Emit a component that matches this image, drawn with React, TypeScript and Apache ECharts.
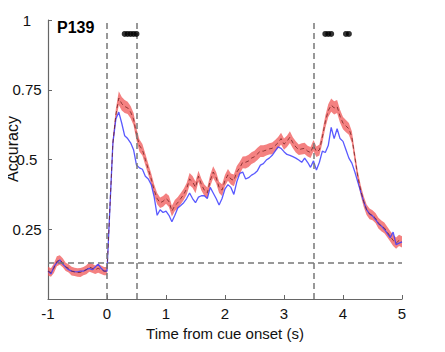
import React, { useEffect, useRef } from "react";
import * as echarts from "echarts";

// sampling grid: -1 s to 5 s in 0.05 s steps (121 samples)
const tStart = -1;
const tStep = 0.05;

// red condition: mean accuracy
const redMean = [
  0.10, 0.095, 0.11, 0.135, 0.14, 0.13, 0.115, 0.11, 0.10, 0.097, 0.095, 0.095, 0.10, 0.105, 0.115, 0.11, 0.105, 0.11, 0.105, 0.10, 0.10,
  0.33, 0.56, 0.66, 0.72, 0.70, 0.69, 0.685, 0.67, 0.645, 0.59, 0.55, 0.535, 0.50, 0.465, 0.43, 0.39, 0.36, 0.345, 0.35, 0.36,
  0.35, 0.315, 0.335, 0.345, 0.36, 0.375, 0.395, 0.43, 0.42, 0.40, 0.44, 0.41, 0.39, 0.38, 0.425, 0.455, 0.435, 0.40, 0.39, 0.425,
  0.445, 0.43, 0.425, 0.455, 0.47, 0.49, 0.49, 0.495, 0.505, 0.51, 0.52, 0.53, 0.53, 0.534, 0.538, 0.54, 0.55, 0.56, 0.575, 0.555,
  0.565, 0.58, 0.56, 0.545, 0.535, 0.538, 0.54, 0.53, 0.525, 0.55, 0.528, 0.534, 0.58, 0.635, 0.675, 0.695, 0.685, 0.69, 0.655, 0.63,
  0.62, 0.61, 0.58, 0.51, 0.44, 0.39, 0.35, 0.32, 0.305, 0.30, 0.29, 0.272, 0.262, 0.255, 0.24, 0.225, 0.21, 0.20, 0.21, 0.205,
];

// red condition: half-width of shaded error band
const redSem = [
  0.016, 0.015, 0.017, 0.018, 0.017, 0.016, 0.015, 0.015, 0.016, 0.015, 0.015, 0.016, 0.015, 0.016, 0.017, 0.016, 0.015, 0.016, 0.015, 0.015, 0.015,
  0.018, 0.02, 0.022, 0.025, 0.024, 0.023, 0.022, 0.022, 0.022, 0.022, 0.022, 0.021, 0.021, 0.02, 0.02, 0.02, 0.02, 0.019, 0.019, 0.019,
  0.02, 0.019, 0.02, 0.021, 0.02, 0.02, 0.021, 0.022, 0.021, 0.021, 0.02, 0.021, 0.02, 0.02, 0.021, 0.021, 0.02, 0.02, 0.021, 0.02,
  0.021, 0.02, 0.021, 0.022, 0.022, 0.021, 0.022, 0.022, 0.021, 0.021, 0.022, 0.021, 0.021, 0.02, 0.02, 0.021, 0.02, 0.021, 0.021, 0.02,
  0.02, 0.021, 0.02, 0.02, 0.019, 0.02, 0.02, 0.019, 0.02, 0.02, 0.019, 0.02, 0.021, 0.022, 0.023, 0.024, 0.024, 0.023, 0.023, 0.022,
  0.022, 0.021, 0.021, 0.02, 0.02, 0.019, 0.019, 0.019, 0.019, 0.018, 0.018, 0.019, 0.019, 0.019, 0.019, 0.019, 0.02, 0.02, 0.02, 0.02,
];

// blue condition
const blueLine = [
  0.10, 0.09, 0.115, 0.13, 0.14, 0.125, 0.115, 0.105, 0.10, 0.098, 0.097, 0.10, 0.10, 0.105, 0.11, 0.105, 0.115, 0.125, 0.11, 0.10, 0.10,
  0.33, 0.56, 0.645, 0.67, 0.63, 0.585, 0.575, 0.56, 0.535, 0.48, 0.47, 0.465, 0.44, 0.43, 0.41, 0.365, 0.30, 0.32, 0.31, 0.315,
  0.30, 0.277, 0.30, 0.326, 0.335, 0.345, 0.36, 0.38, 0.36, 0.345, 0.365, 0.37, 0.37, 0.36, 0.40, 0.38, 0.36, 0.337, 0.36, 0.395,
  0.41, 0.40, 0.375, 0.42, 0.45, 0.455, 0.43, 0.435, 0.444, 0.45, 0.46, 0.48, 0.485, 0.498, 0.505, 0.515, 0.53, 0.545, 0.54, 0.528,
  0.518, 0.515, 0.51, 0.505, 0.498, 0.49, 0.505, 0.49, 0.472, 0.495, 0.462, 0.49, 0.53, 0.525, 0.55, 0.615, 0.575, 0.61, 0.575, 0.565,
  0.535, 0.505, 0.487, 0.456, 0.42, 0.385, 0.35, 0.32, 0.305, 0.298, 0.285, 0.27, 0.262, 0.25, 0.235, 0.22, 0.24, 0.195, 0.20, 0.205,
];

// significance markers (time points)
const sigTimes = [0.3, 0.35, 0.4, 0.45, 0.5, 3.7, 3.75, 3.8, 4.05, 4.1];
const sigLevel = 0.95;

// event markers
const eventTimes = [0, 0.5, 3.5];
const chanceLevel = 0.125;

const title = "P139";
const xName = "Time from cue onset (s)";
const yName = "Accuracy";

const FONT = "Liberation Sans";

export default function App() {
  const ref = useRef<HTMLDivElement>(null);
  useEffect(() => {
    if (!ref.current) return;
    const chart = echarts.init(ref.current, undefined, { renderer: "svg" });
    const times = redMean.map((_, i) => +(tStart + i * tStep).toFixed(2));
    const mean = times.map((t, i) => [t, redMean[i]]);
    const blue = times.map((t, i) => [t, blueLine[i]]);
    const sig = sigTimes.map((t) => [t, sigLevel]);

    chart.setOption({
      animation: false,
      grid: { left: 48, right: 43, top: 20, bottom: 53, outerBoundsMode: "none", containLabel: false },
      xAxis: {
        type: "value",
        min: -1,
        max: 5,
        interval: 1,
        name: xName,
        nameLocation: "middle",
        nameGap: 22,
        nameTextStyle: { fontFamily: FONT, fontSize: 15, color: "#111" },
        axisLine: { onZero: false, lineStyle: { color: "#666", width: 1.2 } },
        axisTick: { inside: true, length: 4, lineStyle: { color: "#666" } },
        axisLabel: { fontFamily: FONT, fontSize: 15, color: "#111", margin: 7 },
        splitLine: { show: false },
      },
      yAxis: {
        type: "value",
        min: 0,
        max: 1,
        interval: 0.25,
        axisLine: { onZero: false, lineStyle: { color: "#666", width: 1.2 } },
        axisTick: { inside: true, length: 4, lineStyle: { color: "#666" } },
        axisLabel: {
          fontFamily: FONT,
          fontSize: 15,
          color: "#111",
          margin: 21,
          align: "center",
          formatter: (v: number) => (v === 0 ? "" : String(v)),
        },
        splitLine: { show: false },
      },
      graphic: [
        {
          type: "text",
          left: 57,
          top: 19,
          style: { text: title, fontFamily: FONT, fontWeight: "bold", fontSize: 16, fill: "#000" },
        },
        {
          type: "text",
          x: 12,
          y: 149,
          rotation: Math.PI / 2,
          style: {
            text: yName,
            fontFamily: FONT,
            fontSize: 16,
            fill: "#111",
            align: "center",
            verticalAlign: "middle",
          },
        },
      ],
      series: [
        {
          type: "custom",
          silent: true,
          z: 1,
          data: [[0, 0]],
          renderItem: (_params: any, api: any) => {
            const upper = times.map((t, i) => api.coord([t, redMean[i] + redSem[i]]));
            const lower = times.map((t, i) => api.coord([t, redMean[i] - redSem[i]])).reverse();
            return {
              type: "polygon",
              shape: { points: upper.concat(lower) },
              style: { fill: "rgba(240,80,80,0.72)", stroke: "none" },
            };
          },
        },
        {
          type: "line",
          data: blue,
          symbol: "none",
          lineStyle: { color: "rgba(60,60,255,0.85)", width: 1.3 },
          z: 3,
          markLine: {
            silent: true,
            symbol: "none",
            label: { show: false },
            lineStyle: { color: "#777", type: [6, 4], width: 1.5 },
            data: [...eventTimes.map((t) => ({ xAxis: t })), { yAxis: chanceLevel }],
          },
        },
        {
          type: "line",
          data: mean,
          symbol: "none",
          lineStyle: { color: "rgba(110,30,30,0.75)", width: 1, type: [4, 3] },
          z: 4,
        },
        {
          type: "scatter",
          data: sig,
          symbolSize: 6,
          itemStyle: { color: "#000" },
          z: 5,
        },
      ],
    });
    return () => chart.dispose();
  }, []);
  return <div ref={ref} style={{ width: 445, height: 352, margin: -8 }} />;
}
